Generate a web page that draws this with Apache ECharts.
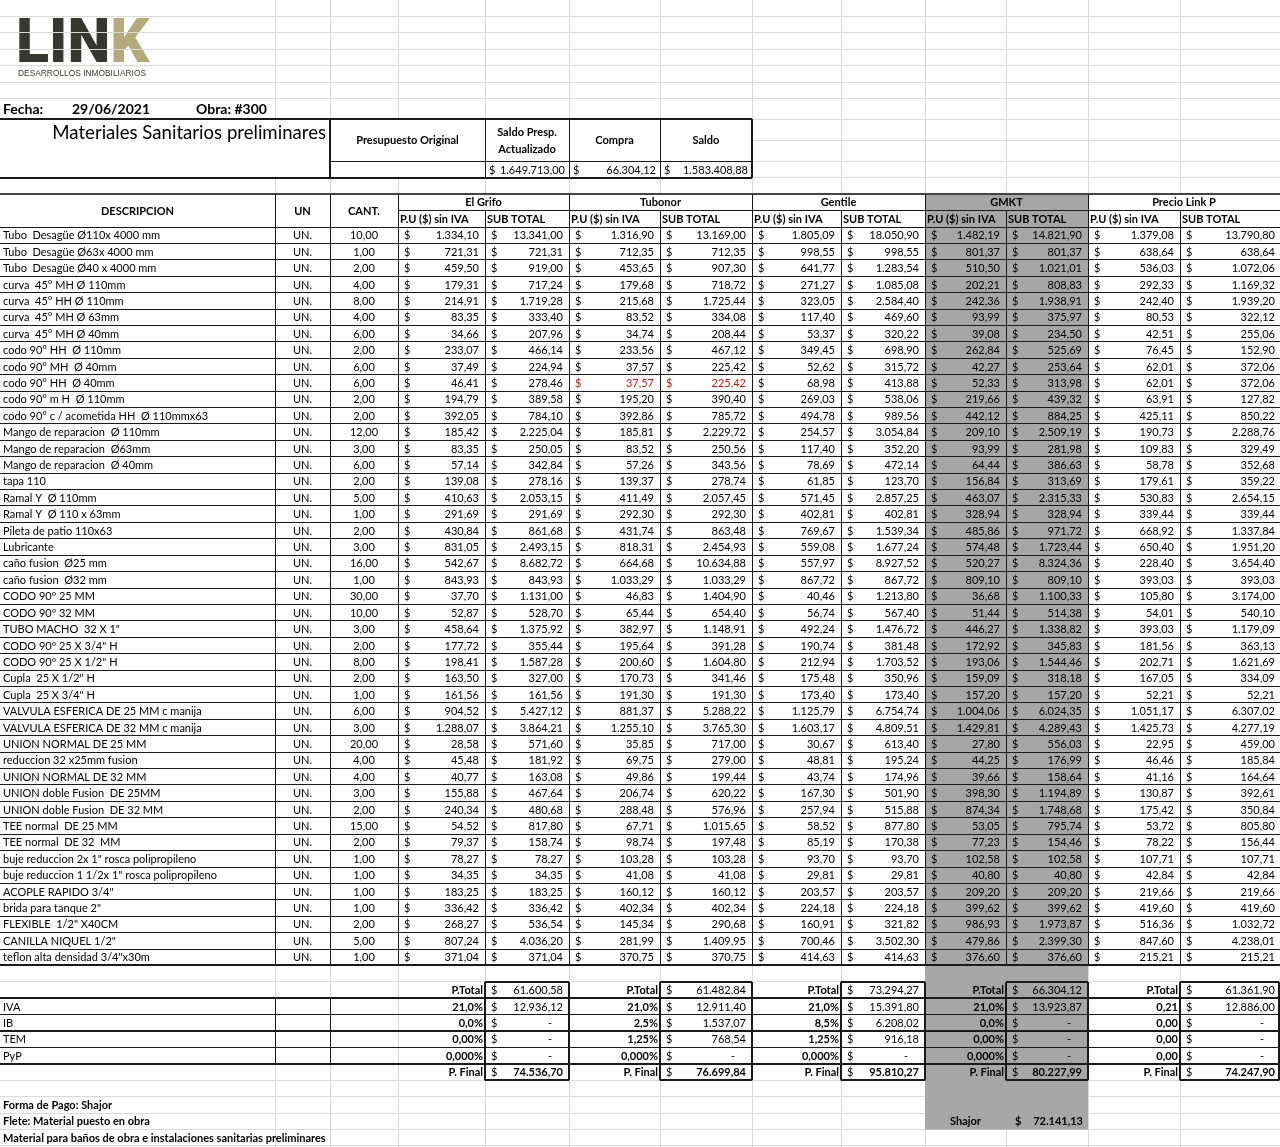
<!DOCTYPE html>
<html>
<head>
<meta charset="utf-8">
<title>Materiales Sanitarios preliminares</title>
<script src="https://cdn.jsdelivr.net/npm/echarts@6/dist/echarts.min.js"></script>
<style>
html, body { margin: 0; padding: 0; background: #fff; }
#hoja { width: 1280px; height: 1147px; }
</style>
</head>
<body>
<div id="hoja"></div>
<script>
// ---- datos de la planilla ----
var descripcion = [
    'Tubo  Desagüe Ø110x 4000 mm', 'Tubo  Desagüe Ø63x 4000 mm', 'Tubo  Desagüe Ø40 x 4000 mm',
    'curva  45° MH Ø 110mm', 'curva  45° HH Ø 110mm', 'curva  45° MH Ø 63mm', 'curva  45° MH Ø 40mm',
    'codo 90° HH  Ø 110mm', 'codo 90° MH  Ø 40mm', 'codo 90° HH  Ø 40mm', 'codo 90° m H  Ø 110mm',
    'codo 90° c / acometida HH  Ø 110mmx63', 'Mango de reparacion  Ø 110mm', 'Mango de reparacion  Ø63mm',
    'Mango de reparacion  Ø 40mm', 'tapa 110', 'Ramal Y  Ø 110mm', 'Ramal Y  Ø 110 x 63mm',
    'Pileta de patio 110x63', 'Lubricante', 'caño fusion  Ø25 mm', 'caño fusion  Ø32 mm',
    'CODO 90º 25 MM', 'CODO 90º 32 MM', 'TUBO MACHO  32 X 1"', 'CODO 90º 25 X 3/4" H',
    'CODO 90º 25 X 1/2" H', 'Cupla  25 X 1/2" H', 'Cupla  25 X 3/4" H',
    'VALVULA ESFERICA DE 25 MM c manija', 'VALVULA ESFERICA DE 32 MM c manija',
    'UNION NORMAL DE 25 MM', 'reduccion 32 x25mm fusion', 'UNION NORMAL DE 32 MM',
    'UNION doble Fusion  DE 25MM', 'UNION doble Fusion  DE 32 MM', 'TEE normal  DE 25 MM',
    'TEE normal  DE 32  MM', 'buje reduccion 2x 1" rosca polipropileno',
    'buje reduccion 1 1/2x 1" rosca polipropileno', 'ACOPLE RAPIDO 3/4"', 'brida para tanque 2"',
    'FLEXIBLE  1/2" X40CM', 'CANILLA NIQUEL 1/2"', 'teflon alta densidad 3/4"x30m'
];
var unidad = 'UN.';
var cantidad = [10, 1, 2, 4, 8, 4, 6, 2, 6, 6, 2, 2, 12, 3, 6, 2, 5, 1, 2, 3, 16, 1, 30, 10, 3,
    2, 8, 2, 1, 6, 3, 20, 4, 4, 3, 2, 15, 2, 1, 1, 1, 1, 2, 5, 1];

var proveedores = ['El Grifo', 'Tubonor', 'Gentile', 'GMKT', 'Precio Link P'];

var grifoPU = [1334.10, 721.31, 459.50, 179.31, 214.91, 83.35, 34.66, 233.07, 37.49, 46.41,
    194.79, 392.05, 185.42, 83.35, 57.14, 139.08, 410.63, 291.69, 430.84, 831.05,
    542.67, 843.93, 37.70, 52.87, 458.64, 177.72, 198.41, 163.50, 161.56, 904.52,
    1288.07, 28.58, 45.48, 40.77, 155.88, 240.34, 54.52, 79.37, 78.27, 34.35,
    183.25, 336.42, 268.27, 807.24, 371.04];
var grifoSub = [13341.00, 721.31, 919.00, 717.24, 1719.28, 333.40, 207.96, 466.14, 224.94, 278.46,
    389.58, 784.10, 2225.04, 250.05, 342.84, 278.16, 2053.15, 291.69, 861.68, 2493.15,
    8682.72, 843.93, 1131.00, 528.70, 1375.92, 355.44, 1587.28, 327.00, 161.56, 5427.12,
    3864.21, 571.60, 181.92, 163.08, 467.64, 480.68, 817.80, 158.74, 78.27, 34.35,
    183.25, 336.42, 536.54, 4036.20, 371.04];

var tubonorPU = [1316.90, 712.35, 453.65, 179.68, 215.68, 83.52, 34.74, 233.56, 37.57, 37.57,
    195.20, 392.86, 185.81, 83.52, 57.26, 139.37, 411.49, 292.30, 431.74, 818.31,
    664.68, 1033.29, 46.83, 65.44, 382.97, 195.64, 200.60, 170.73, 191.30, 881.37,
    1255.10, 35.85, 69.75, 49.86, 206.74, 288.48, 67.71, 98.74, 103.28, 41.08,
    160.12, 402.34, 145.34, 281.99, 370.75];
var tubonorSub = [13169.00, 712.35, 907.30, 718.72, 1725.44, 334.08, 208.44, 467.12, 225.42, 225.42,
    390.40, 785.72, 2229.72, 250.56, 343.56, 278.74, 2057.45, 292.30, 863.48, 2454.93,
    10634.88, 1033.29, 1404.90, 654.40, 1148.91, 391.28, 1604.80, 341.46, 191.30, 5288.22,
    3765.30, 717.00, 279.00, 199.44, 620.22, 576.96, 1015.65, 197.48, 103.28, 41.08,
    160.12, 402.34, 290.68, 1409.95, 370.75];

var gentilePU = [1805.09, 998.55, 641.77, 271.27, 323.05, 117.40, 53.37, 349.45, 52.62, 68.98,
    269.03, 494.78, 254.57, 117.40, 78.69, 61.85, 571.45, 402.81, 769.67, 559.08,
    557.97, 867.72, 40.46, 56.74, 492.24, 190.74, 212.94, 175.48, 173.40, 1125.79,
    1603.17, 30.67, 48.81, 43.74, 167.30, 257.94, 58.52, 85.19, 93.70, 29.81,
    203.57, 224.18, 160.91, 700.46, 414.63];
var gentileSub = [18050.90, 998.55, 1283.54, 1085.08, 2584.40, 469.60, 320.22, 698.90, 315.72, 413.88,
    538.06, 989.56, 3054.84, 352.20, 472.14, 123.70, 2857.25, 402.81, 1539.34, 1677.24,
    8927.52, 867.72, 1213.80, 567.40, 1476.72, 381.48, 1703.52, 350.96, 173.40, 6754.74,
    4809.51, 613.40, 195.24, 174.96, 501.90, 515.88, 877.80, 170.38, 93.70, 29.81,
    203.57, 224.18, 321.82, 3502.30, 414.63];

var gmktPU = [1482.19, 801.37, 510.50, 202.21, 242.36, 93.99, 39.08, 262.84, 42.27, 52.33,
    219.66, 442.12, 209.10, 93.99, 64.44, 156.84, 463.07, 328.94, 485.86, 574.48,
    520.27, 809.10, 36.68, 51.44, 446.27, 172.92, 193.06, 159.09, 157.20, 1004.06,
    1429.81, 27.80, 44.25, 39.66, 398.30, 874.34, 53.05, 77.23, 102.58, 40.80,
    209.20, 399.62, 986.93, 479.86, 376.60];
var gmktSub = [14821.90, 801.37, 1021.01, 808.83, 1938.91, 375.97, 234.50, 525.69, 253.64, 313.98,
    439.32, 884.25, 2509.19, 281.98, 386.63, 313.69, 2315.33, 328.94, 971.72, 1723.44,
    8324.36, 809.10, 1100.33, 514.38, 1338.82, 345.83, 1544.46, 318.18, 157.20, 6024.35,
    4289.43, 556.03, 176.99, 158.64, 1194.89, 1748.68, 795.74, 154.46, 102.58, 40.80,
    209.20, 399.62, 1973.87, 2399.30, 376.60];

var linkPU = [1379.08, 638.64, 536.03, 292.33, 242.40, 80.53, 42.51, 76.45, 62.01, 62.01,
    63.91, 425.11, 190.73, 109.83, 58.78, 179.61, 530.83, 339.44, 668.92, 650.40,
    228.40, 393.03, 105.80, 54.01, 393.03, 181.56, 202.71, 167.05, 52.21, 1051.17,
    1425.73, 22.95, 46.46, 41.16, 130.87, 175.42, 53.72, 78.22, 107.71, 42.84,
    219.66, 419.60, 516.36, 847.60, 215.21];
var linkSub = [13790.80, 638.64, 1072.06, 1169.32, 1939.20, 322.12, 255.06, 152.90, 372.06, 372.06,
    127.82, 850.22, 2288.76, 329.49, 352.68, 359.22, 2654.15, 339.44, 1337.84, 1951.20,
    3654.40, 393.03, 3174.00, 540.10, 1179.09, 363.13, 1621.69, 334.09, 52.21, 6307.02,
    4277.19, 459.00, 185.84, 164.64, 392.61, 350.84, 805.80, 156.44, 107.71, 42.84,
    219.66, 419.60, 1032.72, 4238.01, 215.21];

// totales por proveedor
var pTotal = [61600.58, 61482.84, 73294.27, 66304.12, 61361.90];
var tasaIva = ['21,0%', '21,0%', '21,0%', '21,0%', '0,21'];
var iva = [12936.12, 12911.40, 15391.80, 13923.87, 12886.00];
var tasaIb = ['0,0%', '2,5%', '8,5%', '0,0%', '0,00'];
var ib = [0, 1537.07, 6208.02, 0, 0];
var tasaTem = ['0,00%', '1,25%', '1,25%', '0,00%', '0,00'];
var tem = [0, 768.54, 916.18, 0, 0];
var tasaPyp = ['0,000%', '0,000%', '0,000%', '0,000%', '0,00'];
var pyp = [0, 0, 0, 0, 0];
var pFinal = [74536.70, 76699.84, 95810.27, 80227.99, 74247.90];

// cabecera
var resumenTitulos = ['Presupuesto Original', 'Saldo Presp.|Actualizado', 'Compra', 'Saldo'];
var resumenValores = [null, 1649713.00, 66304.12, 1583408.88];
var shajor = 72141.13;
var notas = ['Forma de Pago: Shajor', 'Flete: Material puesto en obra',
    'Material para baños de obra e instalaciones sanitarias preliminares'];

// ---- disposicion de la hoja ----
var X = [0, 275, 330, 398, 485, 569, 660, 752, 841, 925, 1006, 1088, 1180, 1280];
var TOP = 194.2, RH = 16.41;
var FUENTE = 'Lato, "Open Sans", sans-serif';

var precioUnit = [grifoPU, tubonorPU, gentilePU, gmktPU, linkPU];
var subTotal = [grifoSub, tubonorSub, gentileSub, gmktSub, linkSub];

function ry(r) { return TOP + r * RH; }
function mid(r) { return TOP + (r + 0.5) * RH + 0.5; }
function fmt(v) {
    var s = v.toFixed(2).split('.');
    return s[0].replace(/\B(?=(\d{3})+(?!\d))/g, '.') + ',' + s[1];
}

var textos = [], lineas = [], rejilla = [], rellenos = [];
function txt(x, y, s, o) {
    o = o || {};
    textos.push({ x: x, y: y, s: s, a: o.a || 'left', b: !!o.b, f: o.f || 11, c: o.c || '#000' });
}
function lin(x0, y0, x1, y1, w, c) {
    lineas.push({ x0: x0, y0: y0, x1: x1, y1: y1, w: w || 1, c: c || '#1a1a1a' });
}
function plata(x, x1, y, v, o) {
    // formato contable: "$" a la izquierda, importe a la derecha
    o = o || {};
    txt(x + 6, y, '$', { c: o.c });
    if (v) txt(x1 - 6, y, fmt(v), { a: 'right', b: o.b, c: o.c });
    else txt(x1 - 17, y, '-', { a: 'right', c: o.c });
}

// rejilla de Excel
var k, r, p;
for (k = 1; k < X.length - 1; k++) rejilla.push([X[k], 0, X[k], 1147]);
[16.4, 32.8, 49.2, 65.6, 82, 98.4, 119, 140.2].forEach(function (y) { rejilla.push([0, y, 1280, y]); });
for (r = -2; r <= 58; r++) rejilla.push([0, ry(r), 1280, ry(r)]);

// fondos
rellenos.push([0, 119, 752, ry(-1), '#ffffff']);
rellenos.push([0, TOP, 1280, ry(47), '#ffffff']);
rellenos.push([X[9], TOP, X[11], ry(57), '#a6a6a6']);

// cabecera superior
txt(3, 109, 'Fecha:', { b: true, f: 14 });
txt(72, 109, '29/06/2021', { b: true, f: 14 });
txt(196, 109, 'Obra: #300', { b: true, f: 14 });
txt(326, 133, 'Materiales Sanitarios preliminares', { a: 'right', f: 18.6 });
var cajaX = [X[2], X[4], X[5], X[6], X[7]];
for (k = 0; k < resumenTitulos.length; k++) {
    var cx = (cajaX[k] + cajaX[k + 1]) / 2;
    var partes = resumenTitulos[k].split('|');
    if (partes.length === 1) txt(cx, 140.5, partes[0], { a: 'center', b: true });
    else { txt(cx, 132.5, partes[0], { a: 'center', b: true }); txt(cx, 149.5, partes[1], { a: 'center', b: true }); }
    if (resumenValores[k] != null) {
        txt(cajaX[k] + 4, mid(-2), '$');
        txt(cajaX[k + 1] - 4, mid(-2), fmt(resumenValores[k]), { a: 'right' });
    }
}
lin(0, 119, 752, 119, 2);
lin(0, ry(-1), 752, ry(-1), 2);
lin(752, 119, 752, ry(-1), 2);
lin(X[2], 119, X[2], ry(-1), 2);
lin(X[4], 119, X[4], ry(-1), 1);
lin(X[5], 119, X[5], ry(-1), 1);
lin(X[6], 119, X[6], ry(-1), 1);
lin(X[2], ry(-2), 752, ry(-2), 1);

// encabezado de la tabla
txt((X[0] + X[1]) / 2, ry(1) + 0.5, 'DESCRIPCION', { a: 'center', b: true });
txt((X[1] + X[2]) / 2, ry(1) + 0.5, 'UN', { a: 'center', b: true });
txt((X[2] + X[3]) / 2, ry(1) + 0.5, 'CANT.', { a: 'center', b: true });
for (p = 0; p < proveedores.length; p++) {
    var a0 = X[3 + 2 * p], a1 = X[4 + 2 * p], a2 = X[5 + 2 * p];
    txt((a0 + a2) / 2, mid(0), proveedores[p], { a: 'center', b: true });
    txt(a0 + 2, mid(1), 'P.U ($) sin IVA', { b: true });
    txt(a1 + 2, mid(1), 'SUB TOTAL', { b: true });
}

// filas de materiales
for (var i = 0; i < descripcion.length; i++) {
    var y = mid(i + 2);
    txt(3, y, descripcion[i]);
    txt((X[1] + X[2]) / 2, y, unidad, { a: 'center' });
    txt((X[2] + X[3]) / 2, y, fmt(cantidad[i]), { a: 'center' });
    for (p = 0; p < proveedores.length; p++) {
        var rojo = (p === 1 && i === 9) ? '#ff0000' : undefined;
        plata(X[3 + 2 * p], X[4 + 2 * p], y, precioUnit[p][i], { c: rojo });
        plata(X[4 + 2 * p], X[5 + 2 * p] + (p === 4 ? 1 : 0), y, subTotal[p][i], { c: rojo });
    }
}

// bordes de la tabla
lin(0, TOP, 1280, TOP, 2, '#444');
[X[1], X[2], X[3], X[5], X[7], X[9], X[11]].forEach(function (x) { lin(x, TOP, x, ry(47)); });
[X[4], X[6], X[8], X[10], X[12]].forEach(function (x) { lin(x, ry(1), x, ry(47)); });
lin(X[3], ry(1), 1280, ry(1));
for (r = 2; r <= 46; r++) lin(0, ry(r), 1280, ry(r));
lin(0, ry(47), 1280, ry(47), 2);

// totales
var filasTot = [
    { r: 48, label: 'P.Total', tasa: null, val: pTotal },
    { r: 49, label: 'IVA', tasa: tasaIva, val: iva },
    { r: 50, label: 'IB', tasa: tasaIb, val: ib },
    { r: 51, label: 'TEM', tasa: tasaTem, val: tem },
    { r: 52, label: 'PyP', tasa: tasaPyp, val: pyp },
    { r: 53, label: 'P. Final', tasa: null, val: pFinal }
];
filasTot.forEach(function (f) {
    var y = mid(f.r);
    if (f.tasa) txt(3, y, f.label);
    for (p = 0; p < proveedores.length; p++) {
        var b1 = X[4 + 2 * p], b2 = X[5 + 2 * p];
        txt(b1 - 2, y, f.tasa ? f.tasa[p] : f.label, { a: 'right', b: true });
        plata(b1, b2 + (p === 4 ? 1 : 0), y, f.val[p], { b: f.r === 53 });
    }
});
lin(0, ry(49), 1280, ry(49), 2);
lin(0, ry(50), 1280, ry(50), 1);
lin(0, ry(51), 1280, ry(51), 2);
lin(0, ry(52), 1280, ry(52), 1);
lin(0, ry(53), 1280, ry(53), 2);
lin(X[1], ry(49), X[1], ry(53));
lin(X[2], ry(49), X[2], ry(53));
for (p = 0; p < proveedores.length; p++) {
    var c1 = X[4 + 2 * p], c2 = Math.min(X[5 + 2 * p], 1279);
    lin(c1, ry(48), c2, ry(48), 2);
    lin(c1, ry(54), c2, ry(54), 2);
    lin(c1, ry(48), c1, ry(54), 2);
    lin(c2, ry(48), c2, ry(54), 2);
}

// pie
notas.forEach(function (n, j) { txt(3, mid(55 + j), n, { b: true }); });
txt(950, mid(56), 'Shajor', { b: true });
txt(1015, mid(56), '$', { b: true });
txt(1083, mid(56), fmt(shajor), { a: 'right', b: true });

// ---- grafico ----
var hoja = echarts.init(document.getElementById('hoja'), null, { renderer: 'canvas' });

function nitido(v, w) {
    return (Math.round(w) % 2 === 1) ? Math.floor(v) + 0.5 : Math.round(v);
}
function pintarSegmento(api, c, w) {
    var a = api.coord([api.value(0), api.value(1)]);
    var b = api.coord([api.value(2), api.value(3)]);
    if (a[0] === b[0]) { a[0] = b[0] = nitido(a[0], w); }
    if (a[1] === b[1]) { a[1] = b[1] = nitido(a[1], w); }
    return {
        type: 'line',
        shape: { x1: a[0], y1: a[1], x2: b[0], y2: b[1] },
        style: { stroke: c, lineWidth: w }
    };
}

var option = {
    animation: false,
    grid: { left: 0, right: 0, top: 0, bottom: 0 },
    xAxis: { type: 'value', min: 0, max: 1280, show: false },
    yAxis: { type: 'value', min: 0, max: 1147, inverse: true, show: false },
    graphic: [
        {
            type: 'text', left: 16, top: 16,
            style: {
                text: '{a|LIN}{b|K}',
                rich: {
                    a: { fontFamily: 'Roboto', fontWeight: 900, fontSize: 61, fill: '#37362f', lineHeight: 61 },
                    b: { fontFamily: 'Roboto', fontWeight: 900, fontSize: 61, fill: '#b4aa7b', lineHeight: 61 }
                }
            }
        },
        {
            type: 'text', left: 18, top: 70,
            style: { text: 'DESARROLLOS INMOBILIARIOS', font: '8.4px "Liberation Sans", Arial, sans-serif', fill: '#3a3a33' }
        }
    ],
    series: [
        {
            name: 'rejilla', type: 'custom', z: 1, silent: true, clip: false,
            data: rejilla,
            renderItem: function (params, api) { return pintarSegmento(api, '#d9d9d9', 1); }
        },
        {
            name: 'rellenos', type: 'custom', z: 2, silent: true, clip: false,
            data: rellenos.map(function (f, j) { return [f[0], f[1], f[2], f[3], j]; }),
            renderItem: function (params, api) {
                var a = api.coord([api.value(0), api.value(1)]);
                var b = api.coord([api.value(2), api.value(3)]);
                return {
                    type: 'rect',
                    shape: { x: a[0], y: a[1], width: b[0] - a[0], height: b[1] - a[1] },
                    style: { fill: rellenos[api.value(4)][4] }
                };
            }
        },
        {
            name: 'bordes', type: 'custom', z: 3, silent: true, clip: false,
            data: lineas.map(function (l, j) { return [l.x0, l.y0, l.x1, l.y1, j]; }),
            renderItem: function (params, api) {
                var l = lineas[api.value(4)];
                return pintarSegmento(api, l.c, l.w);
            }
        },
        {
            name: 'celdas', type: 'custom', z: 4, silent: true, clip: false,
            data: textos.map(function (t, j) { return [t.x, t.y, j]; }),
            renderItem: function (params, api) {
                var t = textos[api.value(2)];
                var q = api.coord([api.value(0), api.value(1)]);
                return {
                    type: 'text', x: q[0], y: q[1],
                    style: {
                        text: t.s,
                        fill: t.c,
                        font: (t.b ? 'bold ' : '') + t.f + 'px ' + FUENTE,
                        align: t.a,
                        verticalAlign: 'middle'
                    }
                };
            }
        }
    ]
};
hoja.setOption(option);
window.onresize = hoja.resize;
</script>
</body>
</html>
